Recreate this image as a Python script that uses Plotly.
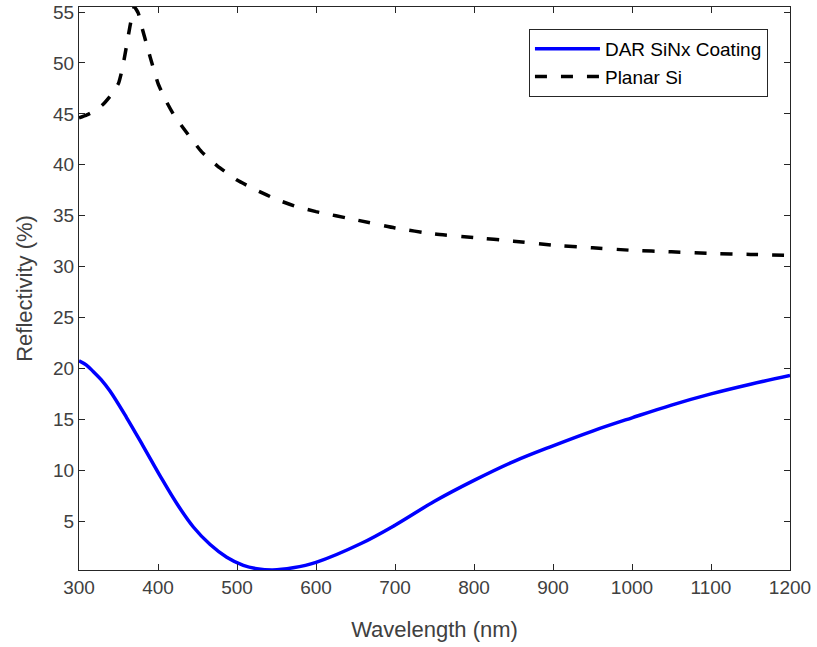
import plotly.graph_objects as go

# Planar Si reflectivity (%)
wl_si = [300, 310, 320, 330, 340, 350, 355, 360, 365, 370, 375, 380, 385, 390,
         400, 410, 420, 435, 455, 475, 500, 525, 550, 575, 600, 650, 700, 750,
         800, 850, 900, 950, 1000, 1050, 1100, 1150, 1200]
refl_si = [44.6, 44.9, 45.3, 45.9, 46.8, 48.0, 49.5, 51.6, 53.8, 55.5, 54.9, 53.4,
           52.0, 50.6, 48.0, 46.3, 44.9, 43.3, 41.3, 39.9, 38.5, 37.5, 36.6, 35.9,
           35.4, 34.6, 33.8, 33.2, 32.85, 32.5, 32.1, 31.85, 31.6, 31.45, 31.3,
           31.2, 31.1]

# DAR SiNx coating reflectivity (%)
wl_dar = [300, 309, 318, 328, 339, 360, 381, 403, 424, 445, 466, 487, 508, 525, 545,
          571, 600, 657, 700, 750, 800, 850, 900, 950, 1000, 1050, 1100, 1150, 1200]
refl_dar = [20.75, 20.35, 19.7, 18.9, 17.8, 15.2, 12.4, 9.4, 6.7, 4.4, 2.7, 1.45, 0.65,
            0.33, 0.2, 0.42, 0.95, 2.8, 4.6, 6.95, 9.0, 10.85, 12.4, 13.85, 15.15,
            16.4, 17.5, 18.45, 19.3]

x_ticks = [300, 400, 500, 600, 700, 800, 900, 1000, 1100, 1200]
y_ticks = [5, 10, 15, 20, 25, 30, 35, 40, 45, 50, 55]

FONT = "Liberation Sans, Arial, sans-serif"
AX = "#262626"
TXT = "#404040"

fig = go.Figure()
fig.add_trace(go.Scatter(
    x=wl_dar, y=refl_dar, mode="lines", name="DAR SiNx Coating",
    line=dict(color="#0000FF", width=3.5, shape="spline", smoothing=1.0),
))
fig.add_trace(go.Scatter(
    x=wl_si, y=refl_si, mode="lines", name="Planar Si",
    line=dict(color="#000000", width=3.5, dash="12px,14px", shape="spline", smoothing=0.5),
))

axis_common = dict(
    showline=True, linecolor=AX, linewidth=1, mirror="ticks",
    ticks="inside", ticklen=6, tickcolor=AX, tickwidth=1,
    showgrid=False, zeroline=False, automargin=False,
    tickfont=dict(family=FONT, size=19, color=TXT),
)

fig.update_layout(
    width=817, height=647,
    margin=dict(l=79, r=27, t=7, b=77, autoexpand=False),
    paper_bgcolor="white", plot_bgcolor="white",
    font=dict(family=FONT, color=TXT),
    xaxis=dict(range=[300, 1200], tickvals=x_ticks,
               title=dict(text="Wavelength (nm)", font=dict(family=FONT, size=22, color=TXT), standoff=24),
               **axis_common),
    yaxis=dict(range=[0.2, 55.5], tickvals=y_ticks,
               title=dict(text="Reflectivity (%)", font=dict(family=FONT, size=22, color=TXT), standoff=14),
               **axis_common),
    legend=dict(
        x=0.969, y=0.961, xanchor="right", yanchor="top",
        bgcolor="white", bordercolor=AX, borderwidth=1,
        font=dict(family=FONT, size=19, color="#000000"),
        itemwidth=65,
    ),
    showlegend=True,
)

fig.write_html("out.html", config={"displayModeBar": False},
               post_script="document.body.style.margin='0';document.body.style.padding='0';")
